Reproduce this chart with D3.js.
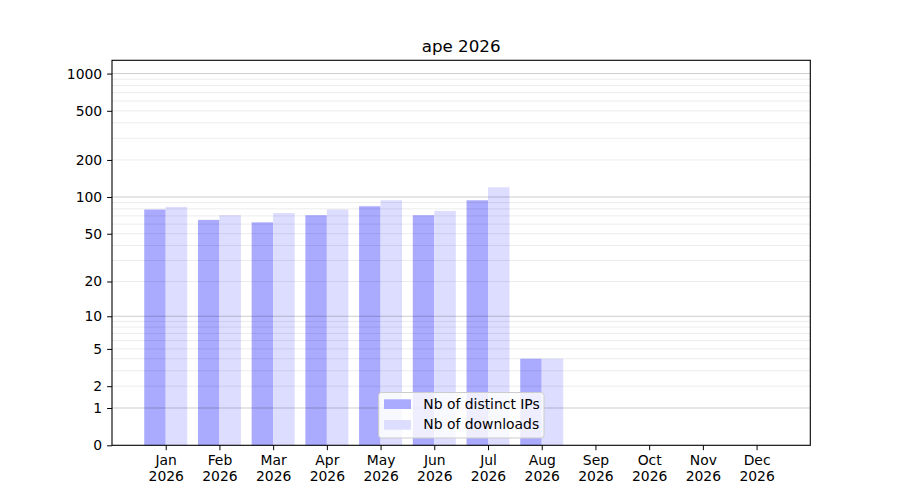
<!DOCTYPE html>
<html>
<head>
<meta charset="utf-8">
<script src="https://cdn.jsdelivr.net/npm/d3@7"></script>
<style>
  body { margin: 0; background: #fff; }
  text { font-family: "DejaVu Sans", sans-serif; }
</style>
</head>
<body>
<div id="chart"></div>
<script>
const width = 900;
const height = 500;
const margin = {top: 60.3, right: 89.7, bottom: 54.7, left: 112};

// data
const months = ['Jan', 'Feb', 'Mar', 'Apr', 'May', 'Jun', 'Jul', 'Aug', 'Sep', 'Oct', 'Nov', 'Dec'];
const year = '2026';
const distinctIps = [79, 65, 62, 71, 84, 71, 94, 4, 0, 0, 0, 0];
const downloads = [83, 71, 74, 79, 94, 77, 120, 4, 0, 0, 0, 0];
const yTicks = [0, 1, 2, 5, 10, 20, 50, 100, 200, 500, 1000];
const majorGrid = [1, 10, 100, 1000];
const minorGrid = [2, 3, 4, 5, 6, 7, 8, 9, 20, 30, 40, 50, 60, 70, 80, 90, 200, 300, 400, 500, 600, 700, 800, 900];
const seriesNames = ['Nb of distinct IPs', 'Nb of downloads'];
const seriesColors = ['#aaaaff', '#ddddff'];

const svg = d3.select('#chart')
  .append('svg')
  .attr('width', width)
  .attr('height', height);

const x = d3.scaleLinear()
  .domain([-1, 12])
  .range([margin.left, width - margin.right]);

const y = d3.scaleSymlog()
  .constant(1)
  .domain([0, 1280])
  .range([height - margin.bottom, margin.top]);

const barW = x(0.4) - x(0);

// bars
svg.append('g')
  .selectAll('rect')
  .data(distinctIps)
  .enter()
  .append('rect')
  .attr('x', (d, i) => x(i - 0.4))
  .attr('y', d => y(d))
  .attr('width', barW)
  .attr('height', d => y(0) - y(d))
  .attr('fill', seriesColors[0]);

svg.append('g')
  .selectAll('rect')
  .data(downloads)
  .enter()
  .append('rect')
  .attr('x', (d, i) => x(i))
  .attr('y', d => y(d))
  .attr('width', barW)
  .attr('height', d => y(0) - y(d))
  .attr('fill', seriesColors[1]);

// grid drawn over bars, like the original
svg.append('g')
  .selectAll('line')
  .data(minorGrid)
  .enter()
  .append('line')
  .attr('x1', margin.left)
  .attr('x2', width - margin.right)
  .attr('y1', d => y(d))
  .attr('y2', d => y(d))
  .attr('stroke', 'rgba(0,0,0,0.08)')
  .attr('stroke-width', 1);

svg.append('g')
  .selectAll('line')
  .data(majorGrid)
  .enter()
  .append('line')
  .attr('x1', margin.left)
  .attr('x2', width - margin.right)
  .attr('y1', d => y(d))
  .attr('y2', d => y(d))
  .attr('stroke', 'rgba(0,0,0,0.2)')
  .attr('stroke-width', 1);

// axes
const yAxis = g => g
  .attr('transform', 'translate(' + margin.left + ',0)')
  .call(d3.axisLeft(y).tickValues(yTicks).tickFormat(d3.format('d')).tickSize(4.9).tickPadding(4.9).tickSizeOuter(0));

const xAxis = g => g
  .attr('transform', 'translate(0,' + (height - margin.bottom) + ')')
  .call(d3.axisBottom(x).tickValues(d3.range(12)).tickFormat(i => months[i]).tickSize(4.9).tickPadding(4.9).tickSizeOuter(0));

svg.append('g').attr('class', 'y-axis').call(yAxis);
svg.append('g').attr('class', 'x-axis').call(xAxis);

svg.selectAll('.x-axis .tick text').each(function(i) {
  const t = d3.select(this);
  t.text(null);
  t.append('tspan').attr('x', 0).attr('dy', '0.71em').text(months[i]);
  t.append('tspan').attr('x', 0).attr('dy', '1.15em').text(year);
}).attr('dy', null);

svg.selectAll('.x-axis .tick text, .y-axis .tick text')
  .attr('font-size', 13.9)
  .attr('font-family', 'DejaVu Sans')
  .attr('fill', '#000');
svg.selectAll('.tick line').attr('stroke', '#000').attr('stroke-width', 1);
svg.selectAll('.domain').remove();

// frame
svg.append('rect')
  .attr('x', margin.left)
  .attr('y', margin.top)
  .attr('width', width - margin.left - margin.right)
  .attr('height', height - margin.top - margin.bottom)
  .attr('fill', 'none')
  .attr('stroke', '#000')
  .attr('stroke-width', 1.1);

// title
svg.append('text')
  .attr('x', (margin.left + width - margin.right) / 2)
  .attr('y', 52)
  .attr('text-anchor', 'middle')
  .attr('font-size', 16.7)
  .text('ape ' + year);

// legend, lower center
const legend = svg.append('g');
legend.append('rect')
  .attr('x', 378.5)
  .attr('y', 392.5)
  .attr('width', 165.5)
  .attr('height', 45.5)
  .attr('rx', 3)
  .attr('fill', 'rgba(255,255,255,0.8)')
  .attr('stroke', '#cccccc');

const item = legend.selectAll('.item')
  .data(seriesNames)
  .enter()
  .append('g')
  .attr('transform', (d, i) => 'translate(384,' + (399.3 + i * 20.7) + ')');

item.append('rect')
  .attr('width', 27)
  .attr('height', 9.7)
  .attr('fill', (d, i) => seriesColors[i]);

item.append('text')
  .attr('x', 39.3)
  .attr('y', 9.2)
  .attr('font-size', 13.9)
  .text(d => d);
</script>
</body>
</html>
